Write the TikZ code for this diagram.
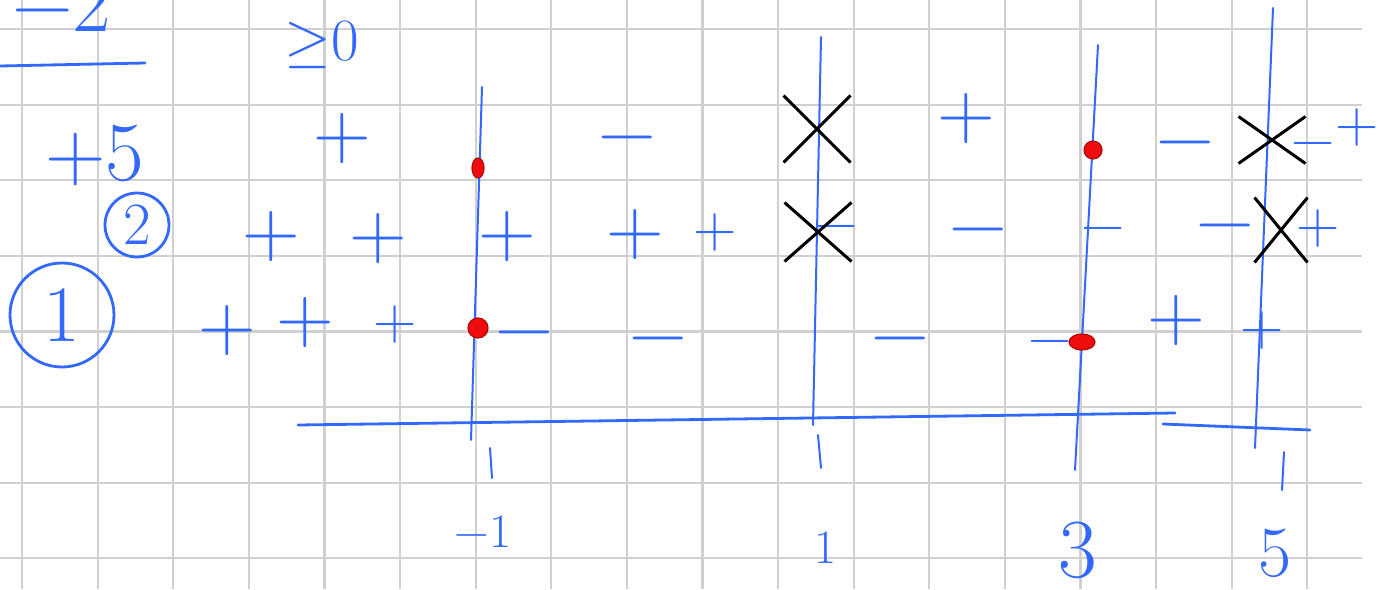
\RequirePackage{fix-cm}
\documentclass[tikz,border=0pt]{standalone}
\usepackage{fontspec}
\usetikzlibrary{shapes.misc,shapes.geometric}
\definecolor{ink}{RGB}{50,105,250}
\definecolor{dotred}{RGB}{238,12,12}
\definecolor{paperline}{RGB}{208,208,208}
\newcommand{\inksize}[1]{\fontsize{#1}{#1}\selectfont}

\begin{document}
\begin{tikzpicture}[
  x=0.5pt, y=-0.5pt,
  gridline/.style={draw=paperline, line width=1.1pt},
  sign/.style={text=ink, inner sep=0pt, anchor=base, yshift=-10pt, font=\inksize{40}},
  smallsign/.style={sign, yshift=2.5pt, font=\inksize{30}},
  numlabel/.style={text=ink, inner sep=0pt, anchor=base},
  rootline/.style={draw=ink, line width=1pt, line cap=round},
  axisline/.style={draw=ink, line width=1.4pt, line cap=round},
  xmark/.style={cross out, draw=black, line width=1.5pt, inner sep=0pt,
    minimum width=32pt, minimum height=32pt},
  zero/.style={ellipse, fill=dotred, draw=dotred!75!black, line width=0.6pt,
    inner sep=0pt, minimum width=9pt, minimum height=9pt},
  circled/.style={circle, draw=ink, line width=1.4pt, text=ink, inner sep=0pt},
]
\useasboundingbox (0,0) rectangle (1380,589);
\clip (0,0) rectangle (1380,589);
\fill[white] (0,0) rectangle (1380,589);

% ---- squared paper ----
\foreach \gx in {0,...,17}
  \draw[gridline] (22+75.6*\gx,0) -- (22+75.6*\gx,589);
\foreach \gy in {0,...,7}
  \draw[gridline] (0,29+75.6*\gy) -- (1362,29+75.6*\gy);

% ---- the inequality ----
\node[numlabel, font=\inksize{42}] (numer) at (62,32) {−2};
\coordinate (barL) at (0,66);
\coordinate (barR) at (145,63);
\draw[axisline] (barL) -- (barR);
\node[numlabel, font=\inksize{42}] (denom) at (95,180) {+5};
\node[numlabel, font=\inksize{30}] (rel) at (322,60) {$\geq$0};

\node[circled, minimum size=32pt, font=\inksize{30}] (two) at (137,225) {2};
\node[circled, minimum size=52pt, font=\inksize{40}] (one) at (62,315) {1};

% ---- root lines and axis ----
\coordinate (m1top) at (482,87);   \coordinate (m1bot) at (471,440);
\coordinate (m1tkT) at (490,448);  \coordinate (m1tkB) at (492,478);
\coordinate (p1top) at (821,37);   \coordinate (p1bot) at (813,425);
\coordinate (p1tkT) at (818,435);  \coordinate (p1tkB) at (821,468);
\coordinate (p3top) at (1098,45);  \coordinate (p3bot) at (1075,470);
\coordinate (p5top) at (1273,8);   \coordinate (p5bot) at (1255,448);
\coordinate (p5tkT) at (1284,452); \coordinate (p5tkB) at (1282,490);

\draw[rootline] (m1top) -- (m1bot);
\draw[rootline] (m1tkT) -- (m1tkB);
\draw[rootline] (p1top) -- (p1bot);
\draw[rootline] (p1tkT) -- (p1tkB);
\draw[rootline] (p3top) -- (p3bot);
\draw[rootline] (p5top) -- (p5bot);
\draw[rootline] (p5tkT) -- (p5tkB);

\coordinate (axL) at (298,425);   \coordinate (axR) at (1175,413);
\coordinate (ax2L) at (1163,424); \coordinate (ax2R) at (1310,430);
\draw[axisline] (axL) -- (axR);
\draw[axisline] (ax2L) -- (ax2R);

\node[numlabel, font=\inksize{24}] (lm1) at (483,547) {−1};
\node[numlabel, font=\inksize{24}] (lp1) at (826,563) {1};
\node[numlabel, font=\inksize{42}] (lp3) at (1078,577) {3};
\node[numlabel, font=\inksize{36}] (lp5) at (1275,576) {5};

% ---- result row ----
\node[sign] (rP1) at (342,138) {+};
\node[sign] (rM1) at (627,137) {−};
\node[xmark] (rX1) at (817,129) {};
\node[sign] (rP2) at (966,118) {+};
\node[sign] (rM2) at (1185,142) {−};
\node[xmark, minimum height=22pt] (rX2) at (1272,140) {};
\node[smallsign] (rM3) at (1313,143) {−};
\node[smallsign] (rP3) at (1357,127) {+};
\node[zero, minimum width=6pt, minimum height=10pt] (rZ1) at (478,168) {};
\node[zero] (rZ2) at (1093,150) {};

% ---- row 2 ----
\node[sign] (bP1) at (271,236) {+};
\node[sign] (bP2) at (378,238) {+};
\node[sign] (bP3) at (507,236) {+};
\node[sign] (bP4) at (635,234) {+};
\node[smallsign] (bP5) at (715,232) {+};
\node[smallsign] (bM1) at (836,226) {−};
\node[xmark, minimum height=28pt] (bX1) at (818,232) {};
\node[sign] (bM2) at (978,229) {−};
\node[smallsign] (bM3) at (1103,228) {−};
\node[sign] (bM4) at (1225,225) {−};
\node[xmark, minimum width=25pt, minimum height=31pt] (bX2) at (1281,230) {};
\node[smallsign] (bP6) at (1318,228) {+};

% ---- row 1 ----
\node[sign] (aP1) at (227,330) {+};
\node[sign] (aP2) at (305,322) {+};
\node[smallsign] (aP3) at (395,324) {+};
\node[sign] (aM1) at (524,332) {−};
\node[sign] (aM2) at (658,338) {−};
\node[sign] (aM3) at (900,338) {−};
\node[smallsign] (aM4) at (1050,341) {−};
\node[sign] (aP4) at (1176,320) {+};
\node[smallsign] (aP5) at (1262,330) {+};
\node[zero, minimum size=10pt] (aZ1) at (478,328) {};
\node[zero, minimum width=13pt, minimum height=8pt] (aZ2) at (1082,342) {};

\end{tikzpicture}
\end{document}
